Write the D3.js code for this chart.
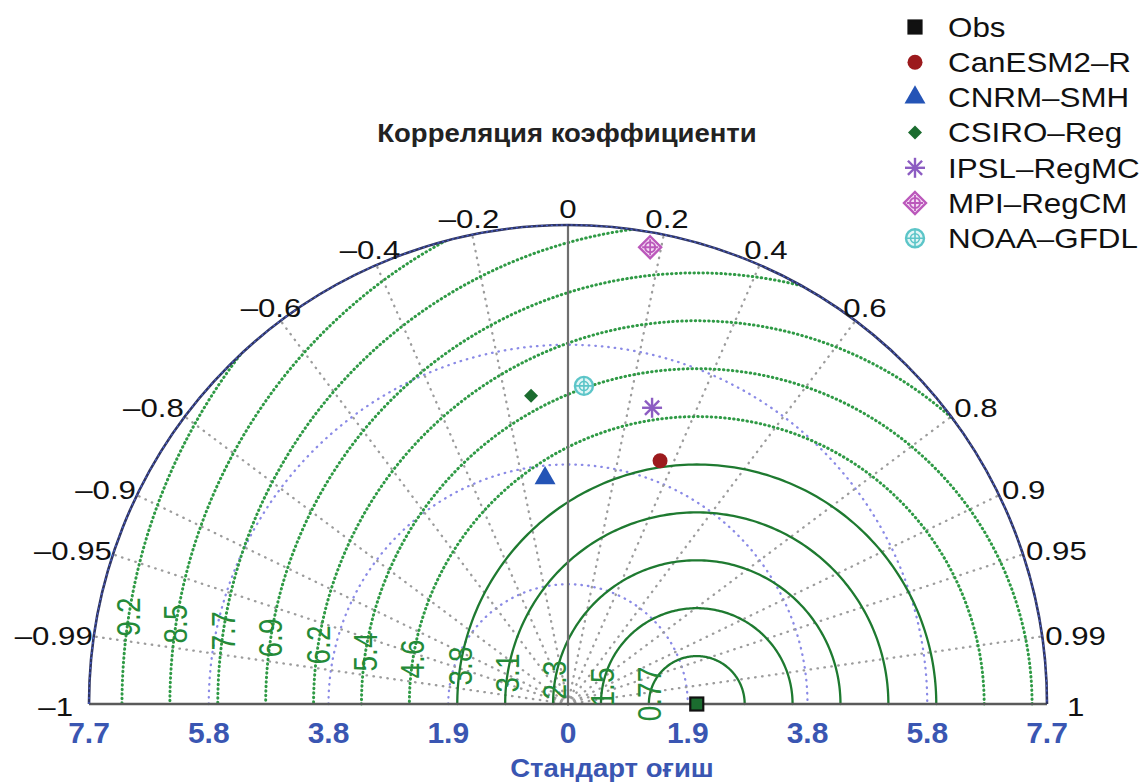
<!DOCTYPE html>
<html>
<head>
<meta charset="utf-8">
<script src="https://cdn.jsdelivr.net/npm/d3@7"></script>
<style>
body { margin: 0; background: #fff; }
svg { display: block; }
</style>
</head>
<body>
<div id="chart"></div>
<script>

// Taylor diagram data
var names = ["Obs", "CanESM2–R", "CNRM–SMH", "CSIRO–Reg", "IPSL–RegMC", "MPI–RegCM", "NOAA–GFDL"]
var stdDevs = [2.07, 4.18, 3.65, 4.99, 4.95, 7.46, 5.12]
var correlations = [1, 0.354, -0.101, -0.119, 0.273, 0.177, 0.05]
var markerTypes = ["square", "circle", "triangle", "diamond", "asterisk", "diamondplus", "circleplus"]
var markerColors = ["#111111", "#9c1a1d", "#2454b6", "#1b6c2f", "#8c5cc2", "#bb58bb", "#5cc5c8"]

var corrTicks = [-1, -0.99, -0.95, -0.9, -0.8, -0.6, -0.4, -0.2, 0, 0.2, 0.4, 0.6, 0.8, 0.9, 0.95, 0.99, 1]
var stdTicks = [0, 1.925, 3.85, 5.775, 7.7]
var stdTickLabels = ["0", "1.9", "3.8", "5.8", "7.7"]
var rmsLevels = [0.77, 1.54, 2.31, 3.08, 3.85, 4.62, 5.39, 6.16, 6.93, 7.7, 8.47, 9.24]
var rmsLabels = ["0.77", "1.5", "2.3", "3.1", "3.8", "4.6", "5.4", "6.2", "6.9", "7.7", "8.5", "9.2"]
var maxStd = 7.7

var width = 1141, height = 783
var cx = 568, cy = 704, R = 479
var font = "'Liberation Sans', Arial, Helvetica, sans-serif"

var r = d3.scaleLinear().domain([0, maxStd]).range([0, R])

function pos(s, c) {
	var a = Math.acos(c)
	return [cx + r(s) * Math.cos(a), cy - r(s) * Math.sin(a)]
}

function halfCircle(rr) {
	return "M" + (cx - rr) + "," + cy + " A" + rr + "," + rr + " 0 0 1 " + (cx + rr) + "," + cy
}

// text in the picture is a bit wider than the font, so stretch it
function placeText(t, x, y, sx) {
	t.attr("x", 0).attr("y", 0)
		.attr("transform", "translate(" + x + "," + y + ") scale(" + sx + ",1)")
}

var svg = d3.select("#chart").append("svg")
	.attr("width", width)
	.attr("height", height)
	.style("font-family", font)

svg.append("clipPath").attr("id", "inside")
	.append("circle").attr("cx", cx).attr("cy", cy).attr("r", R)

// standard deviation arcs (blue dotted)
svg.selectAll(".stdarc")
	.data(stdTicks.slice(1, -1))
	.enter().append("path")
		.attr("class", "stdarc")
		.attr("d", function (d) { return halfCircle(r(d)) })
		.attr("fill", "none")
		.attr("stroke", "#8a8ae6")
		.attr("stroke-width", 2.3)
		.attr("stroke-dasharray", "0.5,6")
		.attr("stroke-linecap", "round")

// correlation rays (gray dotted)
svg.selectAll(".ray")
	.data(corrTicks.filter(function (c) { return Math.abs(c) != 1 && c != 0 }))
	.enter().append("line")
		.attr("class", "ray")
		.attr("x1", cx).attr("y1", cy)
		.attr("x2", function (c) { return pos(maxStd, c)[0] })
		.attr("y2", function (c) { return pos(maxStd, c)[1] })
		.attr("stroke", "#9c9c9c")
		.attr("stroke-width", 2.3)
		.attr("stroke-dasharray", "0.5,6.5")
		.attr("stroke-linecap", "round")

// centred RMS difference arcs around Obs
var obs = pos(stdDevs[0], correlations[0])
var arcLine = d3.line()
var ts = d3.range(0, 181).map(function (i) { return Math.PI * i / 180 })

svg.append("g").attr("clip-path", "url(#inside)")
	.selectAll(".rms")
	.data(rmsLevels)
	.enter().append("path")
		.attr("class", "rms")
		.attr("d", function (d) {
			var rr = r(d)
			return arcLine(ts.map(function (t) { return [obs[0] + rr * Math.cos(t), obs[1] - rr * Math.sin(t)] }))
		})
		.attr("fill", "none")
		.attr("stroke", function (d, i) { return i < 5 ? "#1e7a30" : "#2f9a45" })
		.attr("stroke-width", function (d, i) { return i < 5 ? 2.3 : 3 })
		.attr("stroke-dasharray", function (d, i) { return i < 5 ? null : "0.5,4" })
		.attr("stroke-linecap", "round")

// zero correlation line and baseline
svg.append("line")
	.attr("x1", cx).attr("y1", cy).attr("x2", cx).attr("y2", cy - R)
	.attr("stroke", "#6f6f6f").attr("stroke-width", 2.2)
svg.append("line")
	.attr("x1", cx - R).attr("y1", cy).attr("x2", cx + R).attr("y2", cy)
	.attr("stroke", "#5a5a5a").attr("stroke-width", 2.6)

// outer boundary
svg.append("path").attr("d", halfCircle(R))
	.attr("fill", "none").attr("stroke", "#2f3560").attr("stroke-width", 2.6)
svg.append("path").attr("d", halfCircle(R))
	.attr("fill", "none").attr("stroke", "#4a5fd0").attr("stroke-width", 1.2)
	.attr("stroke-dasharray", "2,3")

// correlation labels
function corrText(c) {
	var s = Math.abs(c) + ""
	return c < 0 ? "–" + s : s
}
svg.selectAll(".corrlab")
	.data(corrTicks)
	.enter().append("text")
		.attr("class", "corrlab")
		.attr("font-size", 26)
		.attr("fill", "#111")
		.attr("dominant-baseline", "central")
		.each(function (c) {
			var p = pos(maxStd, c)
			var sa = Math.sin(Math.acos(c))
			var t = d3.select(this)
			if (Math.abs(c) <= 0.6) {
				t.attr("text-anchor", "middle")
				placeText(t, cx + (R + 16) * c, cy - (R + 16) * sa, 1.2)
			} else if (Math.abs(c) < 1) {
				t.attr("text-anchor", c < 0 ? "end" : "start")
				placeText(t, c < 0 ? p[0] - 1 : p[0] + 3, p[1] - 18 * (sa - 0.12), 1.2)
			} else {
				t.attr("text-anchor", c < 0 ? "end" : "start")
				placeText(t, c < 0 ? p[0] - 16 : p[0] + 20, cy + 3, 1.2)
			}
		})
		.text(corrText)

// std tick labels, both sides
var stdLab = svg.append("g")
	.attr("font-size", 30)
	.attr("font-weight", "bold")
	.attr("fill", "#3a56b2")
	.attr("text-anchor", "middle")
stdTicks.forEach(function (s, i) {
	var xs = s == 0 ? [cx] : [cx - r(s), cx + r(s)]
	xs.forEach(function (x) {
		stdLab.append("text")
			.attr("x", x).attr("y", 732)
			.attr("dominant-baseline", "central")
			.text(stdTickLabels[i])
	})
})

// RMS labels, rotated along the left side of each arc
svg.selectAll(".rmslab")
	.data(rmsLevels)
	.enter().append("text")
		.attr("class", "rmslab")
		.attr("font-size", 28)
		.attr("fill", "#248a38")
		.attr("text-anchor", "middle")
		.attr("dominant-baseline", "central")
		.attr("transform", function (d, i) {
			var rr = r(d)
			var dy = 3 + 7 * (i + 1)
			var x = obs[0] - Math.sqrt(rr * rr - dy * dy)
			return "translate(" + x + "," + (cy - dy) + ") scale(1.2,1) rotate(-90)"
		})
		.text(function (d, i) { return rmsLabels[i] })

// markers
function drawMarker(g, type, color, legend) {
	if (type == "square") {
		g.append("rect").attr("x", -6.5).attr("y", -6.5).attr("width", 13).attr("height", 13)
			.attr("fill", legend ? "#111" : "#1b6c2f").attr("stroke", "#111").attr("stroke-width", 2.2)
	} else if (type == "circle") {
		g.append("circle").attr("r", 7.5).attr("fill", color)
	} else if (type == "triangle") {
		g.append("path").attr("d", d3.symbol().type(d3.symbolTriangle).size(190)()).attr("fill", color)
	} else if (type == "diamond") {
		g.append("path").attr("d", "M0,-7L7,0L0,7L-7,0Z").attr("fill", color)
	} else if (type == "asterisk") {
		for (var k = 0; k < 4; k++) {
			var a = k * Math.PI / 4
			g.append("line")
				.attr("x1", -10 * Math.cos(a)).attr("y1", -10 * Math.sin(a))
				.attr("x2", 10 * Math.cos(a)).attr("y2", 10 * Math.sin(a))
				.attr("stroke", color).attr("stroke-width", 2.4)
		}
	} else if (type == "diamondplus") {
		g.append("path").attr("d", "M0,-11L11,0L0,11L-11,0Z")
			.attr("fill", "#f4dcf4").attr("stroke", color).attr("stroke-width", 2.4)
		g.append("circle").attr("r", 5).attr("fill", "none").attr("stroke", color).attr("stroke-width", 2)
		g.append("path").attr("d", "M-8,0H8M0,-8V8").attr("stroke", color).attr("stroke-width", 1.8)
	} else if (type == "circleplus") {
		g.append("circle").attr("r", 9).attr("fill", "#e2f6f6").attr("stroke", color).attr("stroke-width", 2.4)
		g.append("circle").attr("r", 4.5).attr("fill", "none").attr("stroke", color).attr("stroke-width", 1.6)
		g.append("path").attr("d", "M-9,0H9M0,-9V9").attr("stroke", color).attr("stroke-width", 1.6)
	}
}

names.forEach(function (n, i) {
	var p = pos(stdDevs[i], correlations[i])
	var g = svg.append("g").attr("transform", "translate(" + p[0] + "," + p[1] + ")")
	drawMarker(g, markerTypes[i], markerColors[i], false)
})

// legend
var legend = svg.append("g")
names.forEach(function (n, i) {
	var y = 27 + 35.2 * i
	var g = legend.append("g").attr("transform", "translate(915," + y + ")")
	drawMarker(g, markerTypes[i], markerColors[i], true)
	var t = legend.append("text")
		.attr("dominant-baseline", "central")
		.attr("font-size", 28)
		.attr("fill", "#111")
		.text(n)
	placeText(t, 948, y, 1.12)
})

// titles
var title = svg.append("text")
	.attr("text-anchor", "middle")
	.attr("dominant-baseline", "central")
	.attr("font-size", 25)
	.attr("font-weight", "bold")
	.attr("fill", "#222")
	.text("Корреляция коэффициенти")
placeText(title, 567, 133, 1.1)

var xTitle = svg.append("text")
	.attr("text-anchor", "middle")
	.attr("dominant-baseline", "central")
	.attr("font-size", 25)
	.attr("font-weight", "bold")
	.attr("fill", "#3a56b2")
	.text("Стандарт оғиш")
placeText(xTitle, 612, 768, 1.1)

</script>
</body>
</html>
